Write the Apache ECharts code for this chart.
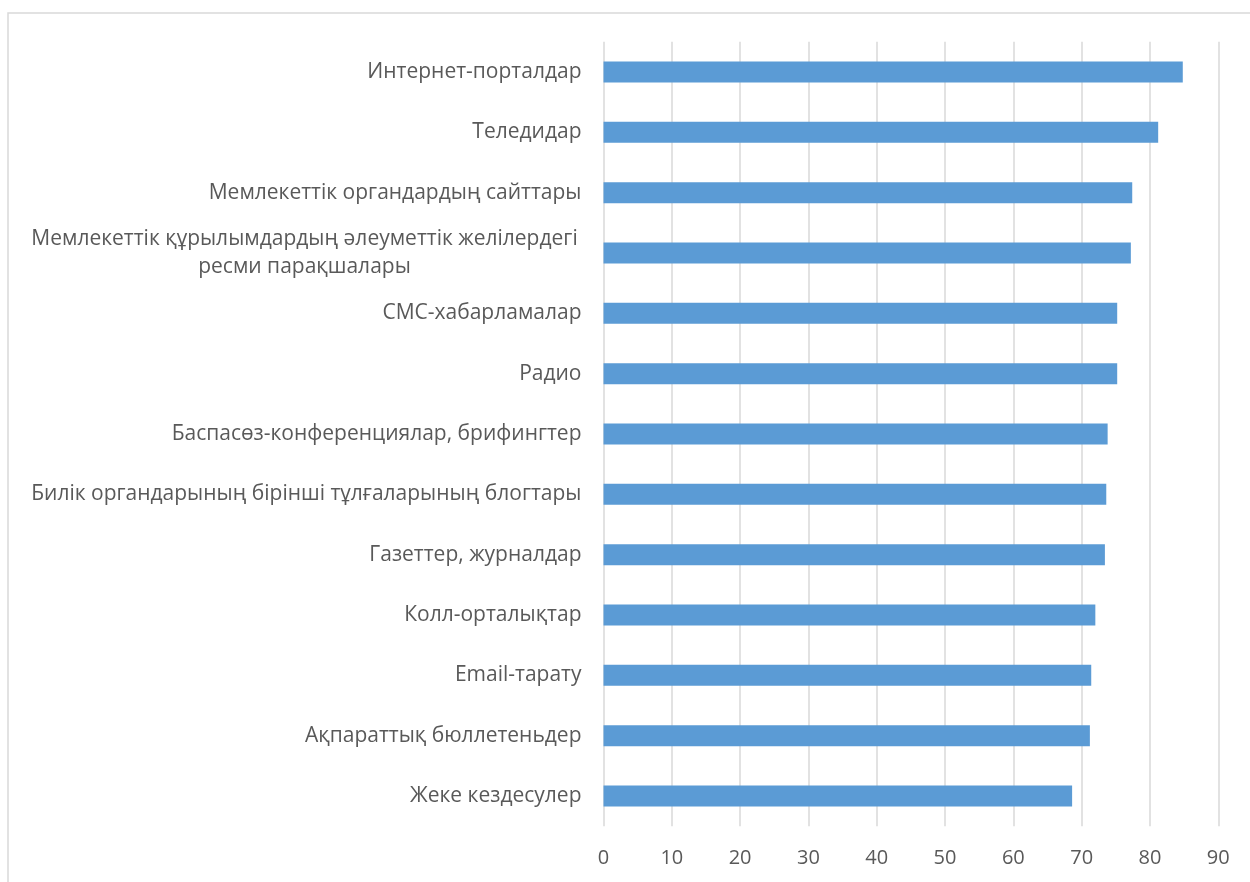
<!DOCTYPE html>
<html>
<head>
<meta charset="utf-8">
<script src="https://cdn.jsdelivr.net/npm/echarts@6/dist/echarts.min.js"></script>
<style>
html,body{margin:0;padding:0;background:#fff;}
#chart{width:1250px;height:882px;}
</style>
</head>
<body>
<div id="chart"></div>
<script>
const categories = [
  'Интернет-порталдар',
  'Теледидар',
  'Мемлекеттік органдардың сайттары',
  'Мемлекеттік құрылымдардың әлеуметтік желілердегі\nресми парақшалары',
  'СМС-хабарламалар',
  'Радио',
  'Баспасөз-конференциялар, брифингтер',
  'Билік органдарының бірінші тұлғаларының блогтары',
  'Газеттер, журналдар',
  'Колл-орталықтар',
  'Email-тарату',
  'Ақпараттық бюллетеньдер',
  'Жеке кездесулер'
];
const values = [84.8, 81.2, 77.4, 77.2, 75.2, 75.2, 73.8, 73.6, 73.4, 72.0, 71.4, 71.2, 68.6];
const xTicks = { min: 0, max: 90, interval: 10 };

const chart = echarts.init(document.getElementById('chart'));
const FONT = '"Open Sans", "Noto Sans", sans-serif';
chart.setOption({
  animation: false,
  backgroundColor: '#ffffff',
  graphic: [{
    type: 'rect',
    shape: { x: 8, y: 13, width: 1400, height: 1000 },
    style: { fill: 'none', stroke: '#d9d9d9', lineWidth: 1.5 },
    silent: true
  }],
  grid: { left: 603.5, right: 31.7, top: 41.8, bottom: 55.8, containLabel: false },
  xAxis: {
    type: 'value',
    min: xTicks.min, max: xTicks.max, interval: xTicks.interval,
    axisLine: { show: false },
    axisTick: { show: false },
    splitLine: { show: true, lineStyle: { color: '#d9d9d9', width: 1.5 } },
    axisLabel: { color: '#595959', fontSize: 20, fontFamily: FONT, margin: 22 }
  },
  yAxis: {
    type: 'category',
    data: categories,
    inverse: true,
    axisLine: { show: false },
    axisTick: { show: false },
    splitLine: { show: false },
    axisLabel: {
      color: '#595959', fontSize: 21, fontFamily: FONT, margin: 22,
      interval: 0,
      formatter: function (v) {
        if (v.indexOf('\n') >= 0) {
          return v.split('\n').map(function (s) { return '{c|' + s + '}'; }).join('\n');
        }
        return v;
      },
      rich: {
        c: { width: 554, align: 'center', color: '#595959', fontSize: 21, fontFamily: FONT, lineHeight: 28 }
      }
    }
  },
  series: [{
    type: 'bar',
    data: values,
    barWidth: 21,
    itemStyle: { color: '#5b9bd5' }
  }]
});
</script>
</body>
</html>
